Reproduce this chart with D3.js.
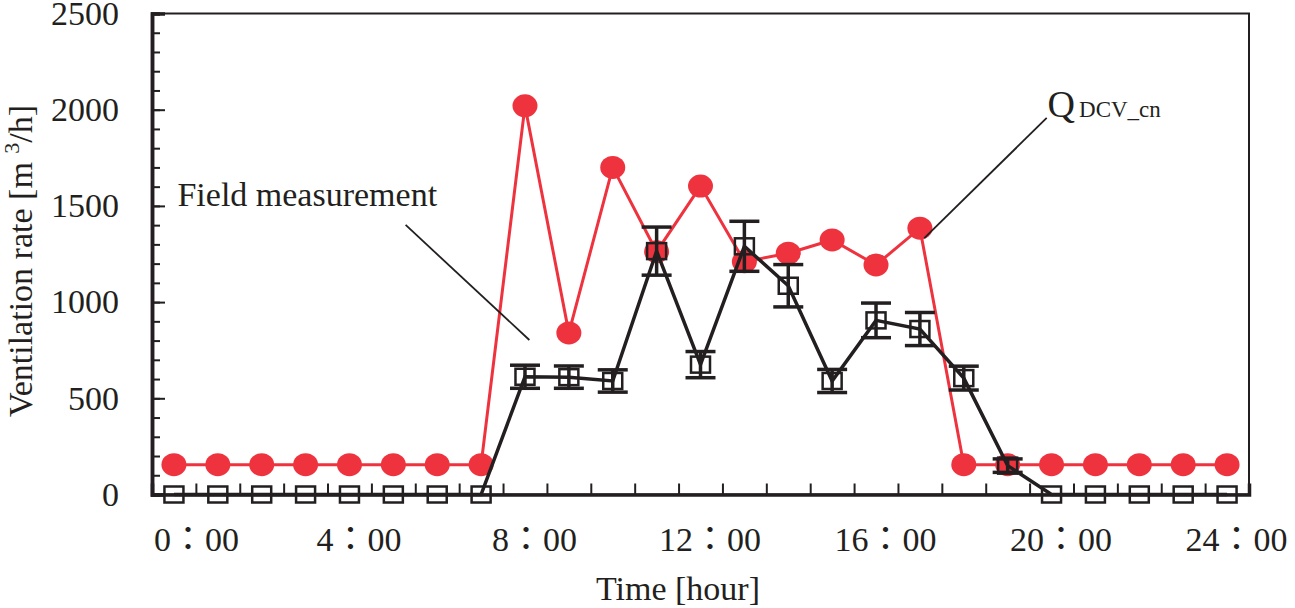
<!DOCTYPE html>
<html>
<head>
<meta charset="utf-8">
<script src="https://cdn.jsdelivr.net/npm/d3@7"></script>
<style>
  body { margin: 0; background: #fff; }
  svg text { font-family: "Liberation Serif", "Noto Sans CJK JP", serif; fill: #231f20; }
</style>
</head>
<body>
<svg id="chart" width="1295" height="608"></svg>
<script>
// hours of the day (categories)
const hours = [0, 1, 2, 3, 4, 5, 6, 7, 8, 9, 10, 11, 12, 13, 14, 15, 16, 17, 18, 19, 20, 21, 22, 23, 24];
// Q_DCV_cn (red)
const qdcv = [155, 155, 155, 155, 155, 155, 155, 155, 2020, 840, 1700, 1262, 1603, 1210, 1254, 1323, 1193, 1384, 155, 155, 155, 155, 155, 155, 155];
// field measurement (black) and its error
const field = [0, 0, 0, 0, 0, 0, 0, 0, 612, 610, 590, 1265, 675, 1290, 1085, 590, 905, 860, 605, 150, 0, 0, 0, 0, 0];
const fieldErr = [0, 0, 0, 0, 0, 0, 0, 0, 60, 58, 58, 125, 68, 130, 110, 60, 90, 86, 62, 35, 0, 0, 0, 0, 0];
const labelHours = [0, 4, 8, 12, 16, 20, 24];
const yTicks = [0, 500, 1000, 1500, 2000, 2500];

let plotL = 152, plotR = 1249, plotT = 13.5, plotB = 494.5;
let red = "#ee333f", ink = "#231f20";
let svg = d3.select("#chart");

let x = d3.scaleLinear().domain([-0.5, 24.5]).range([plotL, plotR]);
let y = d3.scaleLinear().domain([0, 2500]).range([plotB, plotT]);

// frame
svg.append("rect")
   .attr("x", plotL).attr("y", plotT)
   .attr("width", plotR - plotL).attr("height", plotB - plotT)
   .attr("fill", "none").attr("stroke", ink).attr("stroke-width", 2);

// y axis: minor ticks then majors, all pointing inward
let yMinor = svg.append("g").attr("transform", "translate(" + plotL + ",0)")
   .call(d3.axisLeft(y).ticks(25).tickSize(-8).tickFormat(""));
let yMajor = svg.append("g").attr("transform", "translate(" + plotL + ",0)")
   .call(d3.axisLeft(y).tickValues(yTicks).tickSize(-13).tickPadding(33)
           .tickFormat(d3.format("d")));
[yMinor, yMajor].forEach(g => {
    g.select(".domain").attr("stroke", ink).attr("stroke-width", 3.5);
    g.selectAll(".tick line").attr("stroke", ink).attr("stroke-width", 2);
});
yMajor.selectAll("text").attr("font-size", 34).attr("fill", ink)
      .style("font-family", "'Liberation Serif', serif");

// x axis: ticks at category boundaries
let bounds = hours.slice(0, 24).map(h => h + 0.5);
let xTicks = svg.append("g").attr("transform", "translate(0," + plotB + ")")
   .call(d3.axisBottom(x).tickValues(bounds).tickSize(-11).tickFormat(""));
xTicks.select(".domain").attr("stroke", ink).attr("stroke-width", 3.5);
xTicks.selectAll(".tick line").attr("stroke", ink).attr("stroke-width", 2);

let xLabels = svg.append("g").attr("transform", "translate(0," + plotB + ")")
   .call(d3.axisBottom(x).tickValues(labelHours).tickSize(0).tickPadding(32)
           .tickFormat(h => h + "：00"));
xLabels.select(".domain").remove();
xLabels.selectAll("text").attr("font-size", 34).attr("fill", ink)
       .attr("dx", h => h == 0 ? 22 : 9)
       .style("font-family", "'Liberation Serif', 'Noto Sans CJK JP', serif");

// axis titles
svg.append("text")
   .attr("x", 678).attr("y", 600)
   .attr("text-anchor", "middle").attr("font-size", 34)
   .text("Time [hour]");

let yTitle = svg.append("text")
   .attr("transform", "translate(32,261) rotate(-90)")
   .attr("text-anchor", "middle").attr("font-size", 34);
yTitle.append("tspan").text("Ventilation rate [m  ");
yTitle.append("tspan").attr("font-size", 22).attr("dy", -13).text("3");
yTitle.append("tspan").attr("dy", 13).text("/h]");

// red series: Q_DCV_cn
let redLine = d3.line().x((d, i) => x(hours[i])).y(d => y(d));
svg.append("path").datum(qdcv)
   .attr("d", redLine)
   .attr("fill", "none").attr("stroke", red).attr("stroke-width", 3);
svg.append("g").selectAll("ellipse").data(qdcv).enter().append("ellipse")
   .attr("cx", (d, i) => x(hours[i])).attr("cy", d => y(d))
   .attr("rx", 12.5).attr("ry", 11.5)
   .attr("fill", red);

// black series: field measurement
let blackLine = d3.line().x((d, i) => x(hours[i])).y(d => y(d));
svg.append("path").datum(field)
   .attr("d", blackLine)
   .attr("fill", "none").attr("stroke", ink).attr("stroke-width", 3.5);

let pts = field.map((v, i) => ({h: hours[i], v: v, e: fieldErr[i]}));
let errs = svg.append("g").selectAll("g").data(pts.filter(d => d.e > 0)).enter().append("g")
   .attr("stroke", ink).attr("stroke-width", 3.5);
errs.append("line")
    .attr("x1", d => x(d.h)).attr("x2", d => x(d.h))
    .attr("y1", d => y(d.v - d.e)).attr("y2", d => y(d.v + d.e));
errs.append("line")
    .attr("x1", d => x(d.h) - 15).attr("x2", d => x(d.h) + 15)
    .attr("y1", d => y(d.v + d.e)).attr("y2", d => y(d.v + d.e));
errs.append("line")
    .attr("x1", d => x(d.h) - 15).attr("x2", d => x(d.h) + 15)
    .attr("y1", d => y(d.v - d.e)).attr("y2", d => y(d.v - d.e));

svg.append("g").selectAll("rect").data(pts).enter().append("rect")
   .attr("x", d => x(d.h) - 9.5).attr("y", d => y(d.v) - 8)
   .attr("width", 19).attr("height", 16)
   .attr("fill", "none").attr("stroke", ink).attr("stroke-width", 2.5);

// annotations
svg.append("text")
   .attr("x", x(0.08)).attr("y", y(1500))
   .attr("font-size", 34)
   .text("Field measurement");
svg.append("line")
   .attr("x1", x(5.28)).attr("y1", y(1401))
   .attr("x2", x(8.1)).attr("y2", y(803))
   .attr("stroke", ink).attr("stroke-width", 1.8);

let qLabel = svg.append("text")
   .attr("x", x(19.91)).attr("y", y(1962))
   .attr("font-size", 38);
qLabel.append("tspan").text("Q");
qLabel.append("tspan").attr("font-size", 23).attr("dx", 4).text("DCV_cn");
svg.append("line")
   .attr("x1", x(19.89)).attr("y1", y(1957))
   .attr("x2", x(17.1)).attr("y2", y(1333))
   .attr("stroke", ink).attr("stroke-width", 1.8);
</script>
</body>
</html>
